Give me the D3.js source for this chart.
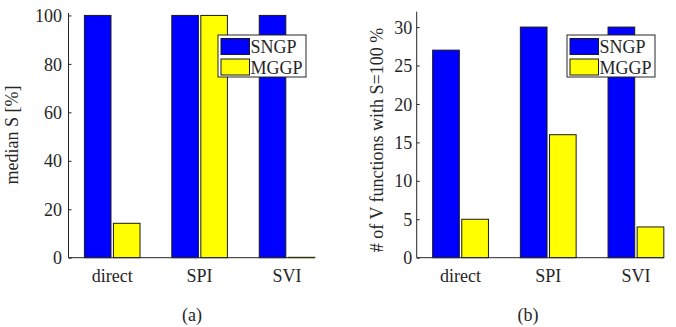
<!DOCTYPE html>
<html>
<head>
<meta charset="utf-8">
<script src="https://cdn.jsdelivr.net/npm/d3@7"></script>
<style>
  body { margin: 0; background: #fff; }
  svg { display: block; }
  text { font-family: "Liberation Serif", "Times New Roman", serif; fill: #262626; }
</style>
</head>
<body>
<svg id="chart" width="676" height="327"></svg>
<script>
// data
const categories = ["direct", "SPI", "SVI"];
const seriesNames = ["SNGP", "MGGP"];
const seriesColors = ["#0000ff", "#ffff00"];

const medianSNGP = [100, 100, 100];
const medianMGGP = [14.2, 100, 0.2];
const medianTicks = [0, 20, 40, 60, 80, 100];

const countSNGP = [27, 30, 30];
const countMGGP = [5, 16, 4];
const countTicks = [0, 5, 10, 15, 20, 25, 30];

const svg = d3.select("#chart");
const fontSize = 18;

function drawPanel(opt) {
	let g = svg.append("g");

	// x is in "bar group" units like matlab (groups at 1,2,3)
	let x = d3.scaleLinear()
		.domain([0.5, 3.32])
		.range([opt.left, opt.right]);

	let y = d3.scaleLinear()
		.domain([0, opt.yMax])
		.range([opt.bottom, opt.top]);

	// offset of each series inside a group
	let inner = d3.scaleBand()
		.domain(seriesNames)
		.range([-0.318, 0.318])
		.paddingInner(0.084);

	let rows = [];
	categories.forEach(function(c, i) {
		opt.series.forEach(function(vals, s) {
			rows.push({cat: i + 1, name: seriesNames[s], color: seriesColors[s], value: vals[i]});
		});
	});

	g.selectAll("rect.bar")
		.data(rows)
		.enter()
		.append("rect")
		.attr("class", "bar")
		.attr("x", d => x(d.cat + inner(d.name)))
		.attr("width", d => x(inner.bandwidth()) - x(0))
		.attr("y", d => y(d.value))
		.attr("height", d => y(0) - y(d.value))
		.attr("fill", d => d.color)
		.attr("stroke", d => d.value < 1 ? "#6b6b00" : "#1a1a1a")
		.attr("stroke-width", 1);

	// y axis, ticks inside
	let yAxis = g.append("g")
		.attr("transform", "translate(" + opt.left + ",0)")
		.call(d3.axisRight(y).tickValues(opt.ticks).tickSize(3).tickFormat(d3.format("d")));
	yAxis.select(".domain").remove();
	yAxis.selectAll(".tick line").attr("stroke", "#262626");
	yAxis.selectAll(".tick text")
		.attr("x", -opt.tickGap)
		.attr("text-anchor", "end")
		.attr("dy", "0.34em")
		.style("font-size", fontSize + "px");

	// axis lines (left and bottom only)
	g.append("line")
		.attr("x1", opt.left).attr("x2", opt.left)
		.attr("y1", y(0)).attr("y2", y(opt.yMax))
		.attr("stroke", "#262626");
	g.append("line")
		.attr("x1", opt.left).attr("x2", opt.right)
		.attr("y1", y(0)).attr("y2", y(0))
		.attr("stroke", "#262626");

	// category labels
	g.selectAll("text.cat")
		.data(categories)
		.enter()
		.append("text")
		.attr("class", "cat")
		.attr("x", (d, i) => x(i + 1))
		.attr("y", y(0) + 24)
		.attr("text-anchor", "middle")
		.style("font-size", fontSize + "px")
		.text(d => d);

	// y label
	g.append("text")
		.attr("transform", "translate(" + opt.labelX + "," + opt.labelY + ") rotate(-90)")
		.attr("text-anchor", "middle")
		.style("font-size", fontSize + "px")
		.text(opt.ylabel);

	// caption
	g.append("text")
		.attr("x", opt.captionX)
		.attr("y", 321)
		.attr("text-anchor", "middle")
		.style("font-size", fontSize + "px")
		.text(opt.caption);

	// legend
	let lg = g.append("g").attr("transform", "translate(" + opt.legendX + ",35)");
	lg.append("rect")
		.attr("width", 88).attr("height", 42)
		.attr("fill", "#fff")
		.attr("stroke", "#262626")
		.attr("stroke-width", 1);
	seriesNames.forEach(function(name, s) {
		lg.append("rect")
			.attr("x", 3).attr("y", 3.5 + s * 20.5)
			.attr("width", 28.5).attr("height", 16)
			.attr("fill", seriesColors[s])
			.attr("stroke", "#1a1a1a");
		lg.append("text")
			.attr("x", 32.5).attr("y", 18 + s * 20.5)
			.style("font-size", fontSize + "px")
			.text(name);
	});
}

drawPanel({
	left: 68.5, right: 315, top: 13, bottom: 257.7, yMax: 101,
	series: [medianSNGP, medianMGGP], ticks: medianTicks, tickGap: 6.5,
	ylabel: "median S [%]", labelX: 17.5, labelY: 135,
	caption: "(a)", captionX: 192, legendX: 218
});

drawPanel({
	left: 416.7, right: 664, top: 11.7, bottom: 257.7, yMax: 32,
	series: [countSNGP, countMGGP], ticks: countTicks, tickGap: 4.5,
	ylabel: "# of V functions with S=100 %", labelX: 383, labelY: 140,
	caption: "(b)", captionX: 528, legendX: 567
});
</script>
</body>
</html>
